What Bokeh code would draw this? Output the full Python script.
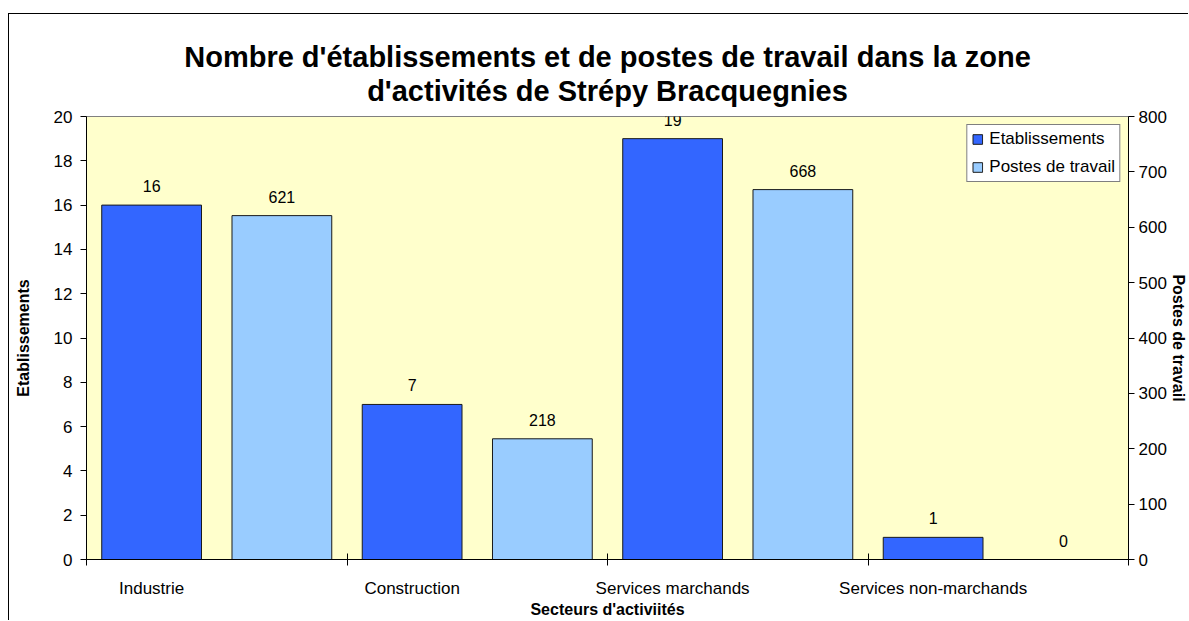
import numpy as np
from bokeh.plotting import figure
from bokeh.models import ColumnDataSource, Range1d, LinearAxis, FixedTicker, Title
from bokeh.transform import dodge
from bokeh.core.properties import value
from bokeh.embed import file_html
from bokeh.resources import INLINE

title_lines = ["Nombre d'établissements et de postes de travail dans la zone",
               "d'activités de Strépy Bracquegnies"]
categories = ["Industrie", "Construction", "Services marchands", "Services non-marchands"]
etablissements = [16, 7, 19, 1]
postes = [621, 218, 668, 0]
left_ticks = list(range(0, 21, 2))
right_ticks = list(range(0, 801, 100))

FONT = "Liberation Sans"
centers = np.arange(len(categories)) + 0.5

src = ColumnDataSource(dict(
    x=centers,
    cat=categories,
    etab=etablissements,
    postes=postes,
    etab_lbl=[str(v) for v in etablissements],
    postes_lbl=[str(v) for v in postes],
))

p = figure(width=1180, height=607, output_backend="svg", toolbar_location=None,
           x_range=Range1d(0, len(categories)), y_range=Range1d(0, 20),
           min_border_left=77, min_border_right=59, min_border_top=102,
           min_border_bottom=62, title=None)
p.styles = {"margin-left": "9px", "margin-top": "14px",
            "box-shadow": "-1px -1px 0px 0px black"}
p.extra_y_ranges = {"right": Range1d(0, 800)}

p.background_fill_color = "#FFFFCC"
p.border_fill_color = "white"
p.outline_line_color = "#808080"
p.grid.visible = False

p.add_layout(Title(text="\n".join(title_lines), align="center", text_align="center",
                   text_font=FONT, text_font_size="29px", text_font_style="bold",
                   text_line_height=1.05, text_color="black", standoff=19), "above")

BAR_W = 0.383
p.vbar(x=dodge("x", -0.25, range=p.x_range), top="etab", width=BAR_W, source=src,
       fill_color="#3366FF", line_color="#1a1a1a", line_width=1,
       legend_label="Etablissements")
p.vbar(x=dodge("x", 0.25, range=p.x_range), top="postes", width=BAR_W, source=src,
       fill_color="#99CCFF", line_color="#1a1a1a", line_width=1,
       y_range_name="right", legend_label="Postes de travail")

p.text(x=dodge("x", -0.25, range=p.x_range), y="etab", text="etab_lbl", source=src,
       text_align="center", text_baseline="bottom", y_offset=-13,
       text_font=value(FONT), text_font_size="16px", text_color="black")
p.text(x=dodge("x", 0.25, range=p.x_range), y="postes", text="postes_lbl", source=src,
       text_align="center", text_baseline="bottom", y_offset=-13, y_range_name="right",
       text_font=value(FONT), text_font_size="16px", text_color="black")

# x axis: labels under the first bar of each group, ticks on group boundaries
xa = p.xaxis[0]
label_ticks = [float(c - 0.25) for c in centers]
xa.ticker = FixedTicker(ticks=label_ticks, minor_ticks=list(range(len(categories) + 1)))
xa.major_label_overrides = {t: c for t, c in zip(label_ticks, categories)}
xa.major_tick_in = 0
xa.major_tick_out = 0
xa.minor_tick_in = 6
xa.minor_tick_out = 6
xa.minor_tick_line_color = "black"
xa.major_label_standoff = 13
xa.axis_label = "Secteurs d'activiités"
xa.axis_label_standoff = 0
xa.axis_label_text_font = FONT
xa.axis_label_text_font_size = "16px"
xa.axis_label_text_font_style = "bold"
xa.axis_label_text_color = "black"
xa.major_label_text_font = FONT
xa.major_label_text_font_size = "17px"
xa.major_label_text_color = "black"
xa.axis_line_color = "black"

# left axis
ya = p.yaxis[0]
ya.ticker = FixedTicker(ticks=left_ticks)
ya.major_tick_in = 0
ya.major_tick_out = 6
ya.minor_tick_line_color = None
ya.major_label_standoff = 8
ya.axis_label = "Etablissements"
ya.axis_label_standoff = 19
ya.axis_label_text_font = FONT
ya.axis_label_text_font_size = "16px"
ya.axis_label_text_font_style = "bold"
ya.axis_label_text_color = "black"
ya.major_label_text_font = FONT
ya.major_label_text_font_size = "17px"
ya.major_label_text_color = "black"
ya.axis_line_color = "black"

# right axis
ra = LinearAxis(y_range_name="right", ticker=FixedTicker(ticks=right_ticks))
ra.major_tick_in = 0
ra.major_tick_out = 6
ra.minor_tick_line_color = None
ra.major_label_standoff = 4
ra.axis_label = "Postes de travail"
ra.axis_label_standoff = 0
ra.axis_label_text_font = FONT
ra.axis_label_text_font_size = "16px"
ra.axis_label_text_font_style = "bold"
ra.axis_label_text_color = "black"
ra.major_label_text_font = FONT
ra.major_label_text_font_size = "17px"
ra.major_label_text_color = "black"
ra.axis_line_color = "black"
p.add_layout(ra, "right")

# legend
lg = p.legend[0]
lg.location = "top_right"
lg.margin = 8
lg.padding = 4
lg.spacing = 8
lg.glyph_width = 12
lg.glyph_height = 12
lg.label_height = 16
lg.label_standoff = 6
lg.label_text_line_height = 1.0
lg.label_text_font = FONT
lg.label_text_font_size = "17px"
lg.label_text_color = "black"
lg.border_line_color = "black"
lg.border_line_width = 1
lg.background_fill_color = "white"
lg.background_fill_alpha = 1.0

open("out.html", "w").write(file_html(p, INLINE))
